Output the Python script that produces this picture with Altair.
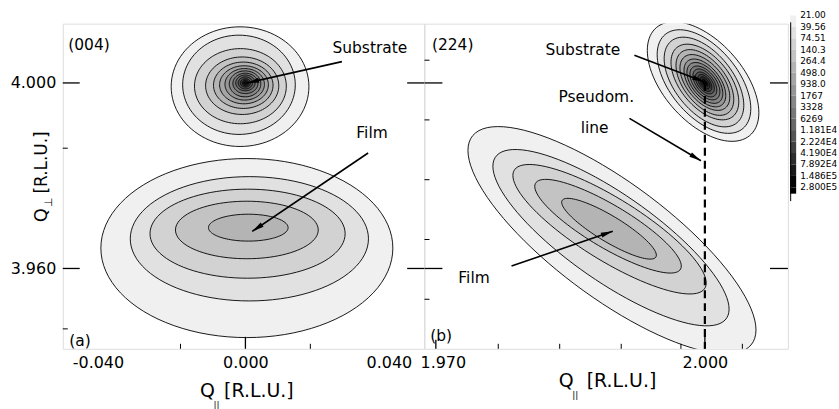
import math
import altair as alt
import numpy as np
import pandas as pd

FONT = "DejaVu Sans"

# ---------------- data ----------------
# contour levels (colour bar)
level_labels = ["21.00", "39.56", "74.51", "140.3", "264.4", "498.0", "938.0", "1767",
                "3328", "6269", "1.181E4", "2.224E4", "4.190E4", "7.892E4", "1.486E5", "2.800E5"]
grays = ["#f0f0f0", "#e1e1e1", "#d2d2d2", "#c3c3c3", "#b4b4b4", "#a5a5a5", "#969696",
         "#878787", "#787878", "#696969", "#555555", "#414141", "#2d2d2d", "#191919", "#050505"]

# (004) substrate peak: contour centres / half-widths (R.L.U.)
sa_cx = [-0.0015, -0.0018, -0.0014, -0.0009, -0.0006, -0.0004, -0.0002, -0.0001, 0.0, 0.0, 0.0, 0.0, 0.0, 0.0]
sa_cy = [3.9992, 3.9996, 3.9993, 3.9994, 3.9995, 3.9996, 3.9997, 3.9998, 3.9999, 4.0000, 4.0000, 4.0000, 4.0000, 4.0000]
sa_rx = [0.0192, 0.0157, 0.0128, 0.0102, 0.0083, 0.0068, 0.0055, 0.0044, 0.0035, 0.0027, 0.0020, 0.0014, 0.0009, 0.0005]
sa_ry = [0.0129, 0.0107, 0.0081, 0.0062, 0.0050, 0.0041, 0.0034, 0.0028, 0.0022, 0.0017, 0.0013, 0.0009, 0.0006, 0.0003]
sa_rho = [0.0] * 14

# (004) film peak
fa_cx = [0.0004, 0.0011, 0.0006, 0.0004, 0.0008]
fa_cy = [3.9644, 3.9664, 3.9675, 3.9683, 3.9688]
fa_rx = [0.0407, 0.0332, 0.0272, 0.0199, 0.0111]
fa_ry = [0.0193, 0.0134, 0.0096, 0.0062, 0.0029]
fa_rho = [0.0] * 5

# (224) substrate peak
sb_cx = [1.9998, 1.9999, 1.9999, 2.0000, 2.0000, 2.0000, 2.0000, 2.0000, 2.0000, 2.0000, 2.0000, 2.0000, 2.0000, 2.0000, 2.0000]
sb_cy = [4.0003, 4.0003, 4.0002, 4.0002, 4.0001, 4.0001, 4.0000, 4.0000, 4.0000, 4.0000, 4.0000, 4.0000, 4.0000, 4.0000, 4.0000]
sb_rx = [0.00622, 0.00522, 0.00444, 0.00378, 0.00322, 0.00278, 0.00233, 0.00200, 0.00167, 0.00133, 0.00106, 0.00078, 0.00056, 0.00033, 0.00017]
sb_ry = [0.01289, 0.01117, 0.00967, 0.00816, 0.00709, 0.00602, 0.00516, 0.00440, 0.00365, 0.00301, 0.00236, 0.00183, 0.00129, 0.00075, 0.00039]
sb_rho = [-0.52] * 15

# (224) film peak
fb_cx = [1.98964, 1.98953, 1.98937, 1.98920, 1.98931]
fb_cy = [3.96610, 3.96664, 3.96846, 3.96911, 3.96857]
fb_rx = [0.01606, 0.01317, 0.01078, 0.00817, 0.00528]
fb_ry = [0.02449, 0.01901, 0.01396, 0.01010, 0.00655]
fb_rho = [-0.79, -0.81, -0.83, -0.85, -0.87]

# axis ticks
xa_labels = [-0.04, 0.0, 0.04]
xb_labels = [1.97, 2.0]
y_labels = [3.96, 4.0]
xa_minor = [-0.0181, 0.0181]
ya_minor = [3.94698, 3.98593]
xb_minor = [1.97696, 1.98381, 1.99067, 1.99733, 2.00418]
yb_minor = [4.0049, 3.99203, 3.97914, 3.96625, 3.95336]

# annotations
ann_a_text = ["(004)", "Substrate", "Film", "(a)"]
ann_a_x = [-0.0494, 0.0347, 0.0353, -0.0491]
ann_a_y = [4.0082, 4.0076, 3.9893, 3.9444]
ann_a_align = ["left", "center", "center", "left"]
arr_a = dict(x1=[0.0269, 0.0342], y1=[4.0046, 3.9849], x2=[0.0005, 0.0019], y2=[4.0000, 3.9680])

ann_b_text = ["(224)", "Substrate", "Pseudom.", "line", "Film", "(b)"]
ann_b_x = [1.96956, 1.98640, 1.98789, 1.98770, 1.97426, 1.96937]
ann_b_y = [4.00814, 4.00707, 3.99704, 3.99023, 3.95800, 3.94548]
ann_b_align = ["left", "center", "center", "center", "center", "left"]
arr_b = dict(x1=[1.99214, 1.99159, 1.97844], y1=[4.00599, 3.99237, 3.96052],
             x2=[1.99992, 1.99956, 1.98973], y2=[4.00026, 3.98322, 3.96803])

pseudo_x = [2.000]
pseudo_y_top = [4.000]

# ---------------- layout ----------------
H = 326.3
WA = 362.6
WB = 364.7
WL = 50
xa_dom = [-0.050917, 0.049806]
xb_dom = [1.968733, 2.009256]
y_dom = [3.942685, 4.012782]

xs_a = alt.Scale(domain=xa_dom, nice=False, zero=False)
xs_b = alt.Scale(domain=xb_dom, nice=False, zero=False)
ys = alt.Scale(domain=y_dom, nice=False, zero=False)

axis_x_a = alt.Axis(values=xa_labels, ticks=False, domain=False, grid=False,
                    labelExpr="datum.value < 0 ? '-' + format(-datum.value, '.3f') : format(datum.value, '.3f')",
                    labelFont=FONT, labelFontSize=16, labelPadding=6, labelFlush=False,
                    labelColor="black", title=None,
                    labelOffset={"condition": {"test": "datum.value < -0.03", "value": -4}, "value": 0})
axis_y_a = alt.Axis(values=y_labels, format=".3f", ticks=False, domain=False, grid=False,
                    labelFont=FONT, labelFontSize=16, labelPadding=7, labelFlush=False,
                    labelColor="black", title=None)
axis_x_b = alt.Axis(values=xb_labels, format=".3f", ticks=False, domain=False, grid=False,
                    labelFont=FONT, labelFontSize=16, labelPadding=6, labelFlush=False,
                    labelColor="black", title=None,
                    labelOffset={"condition": {"test": "datum.value < 1.98", "value": 7}, "value": 0})
axis_y_b = alt.Axis(values=y_labels, ticks=False, domain=False, grid=False, labels=False, title=None)


class Panel:
    def __init__(self, xs, xaxis, yaxis):
        self.xs, self.xaxis, self.yaxis = xs, xaxis, yaxis

    def X(self, f):
        return alt.X(f, scale=self.xs, axis=self.xaxis)

    def Y(self, f):
        return alt.Y(f, scale=ys, axis=self.yaxis)


PA = Panel(xs_a, axis_x_a, axis_y_a)
PB = Panel(xs_b, axis_x_b, axis_y_b)


def ellipse_df(tag, cx, cy, rx, ry, rho, npts=97):
    rows = []
    t = np.linspace(0, 2 * np.pi, npts)
    for k in range(len(cx)):
        r = rho[k]
        xx = cx[k] + rx[k] * np.cos(t)
        yy = cy[k] + ry[k] * (r * np.cos(t) + np.sqrt(1 - r * r) * np.sin(t))
        for i, (x, y) in enumerate(zip(xx, yy)):
            rows.append({"cid": f"{tag}{k}", "level": k, "i": i, "x": float(x), "y": float(y)})
    return pd.DataFrame(rows)


def contour_layers(df, P):
    layers = []
    for k in sorted(int(v) for v in df["level"].unique()):
        sub = df[df["level"] == k]
        layers.append(
            alt.Chart(sub).mark_line(fill=grays[k], stroke="black", strokeWidth=0.9,
                                     clip=True, strokeJoin="round").encode(
                x=P.X("x:Q"), y=P.Y("y:Q"), detail="cid:N", order="i:Q")
        )
    return layers


def arrow_layers(arr, P, kx, ky):
    df = pd.DataFrame(arr)
    df["ang"] = [math.degrees(math.atan2((b - a) * kx, (d - c) * ky)) % 360
                 for a, b, c, d in zip(df.x1, df.x2, df.y1, df.y2)]
    line = alt.Chart(df).mark_rule(color="black", strokeWidth=1.6).encode(
        x=P.X("x1:Q"), y=P.Y("y1:Q"), x2="x2:Q", y2="y2:Q")
    head = alt.Chart(df).mark_point(shape="M0,0L0.42,2L-0.42,2Z", size=144, filled=True,
                                    color="black", opacity=1, strokeWidth=0).encode(
        x=P.X("x2:Q"), y=P.Y("y2:Q"), angle=alt.Angle("ang:Q", scale=None))
    return [line, head]


def text_layers(texts, xv, yv, aligns, P):
    df = pd.DataFrame({"t": texts, "x": xv, "y": yv, "a": aligns})
    out = []
    for al in ["left", "center"]:
        sub = df[df.a == al]
        if len(sub):
            out.append(alt.Chart(sub).mark_text(align=al, baseline="middle", font=FONT,
                                                fontSize=15.5, color="black").encode(
                x=P.X("x:Q"), y=P.Y("y:Q"), text="t:N"))
    return out


def hticks(vals, P, x0, x1, width=1.3):
    return alt.Chart(pd.DataFrame({"v": vals})).mark_rule(color="black", strokeWidth=width).encode(
        y=P.Y("v:Q"), x=alt.value(x0), x2=alt.value(x1))


def vticks(vals, P, length, width=1.3):
    return alt.Chart(pd.DataFrame({"v": vals})).mark_rule(color="black", strokeWidth=width).encode(
        x=P.X("v:Q"), y=alt.value(H - length), y2=alt.value(H))


one = pd.DataFrame({"a": [0]})


def label(text, x, y, size, angle=0):
    kw = dict(text=text, font=FONT, fontSize=size, color="black", align="center", baseline="middle")
    if angle:
        kw["angle"] = angle
    return alt.Chart(one).mark_text(**kw).encode(x=alt.value(x), y=alt.value(y))


kx_a = WA / (xa_dom[1] - xa_dom[0])
kx_b = WB / (xb_dom[1] - xb_dom[0])
ky = H / (y_dom[1] - y_dom[0])

# ---------------- panel (a) ----------------
df_a = pd.concat([ellipse_df("sa", sa_cx, sa_cy, sa_rx, sa_ry, sa_rho),
                  ellipse_df("fa", fa_cx, fa_cy, fa_rx, fa_ry, fa_rho)])

layers_a = contour_layers(df_a, PA)
layers_a += arrow_layers(arr_a, PA, kx_a, ky)
layers_a += text_layers(ann_a_text, ann_a_x, ann_a_y, ann_a_align, PA)
layers_a += [hticks(y_labels, PA, 0, 17), hticks(y_labels, PA, WA - 17, WA), hticks(ya_minor, PA, 0, 5, 1),
             vticks([0.0], PA, 12), vticks(xa_minor, PA, 5, 1)]
layers_a += [label("Q", -21, 192.3, 18, 270), label("⊥", -14, 179.3, 11, 270),
             label("[R.L.U.]", -21, 139.3, 17, 270),
             label("Q", 145.3, 368.3, 19), label("||", 154.3, 382.3, 9),
             label("[R.L.U.]", 196.8, 368.3, 19),
             # white helper fixing the top-left corner of the drawing
             alt.Chart(one).mark_rule(color="white", strokeWidth=0.5).encode(
                 x=alt.value(-62), x2=alt.value(-61), y=alt.value(-22))]
panel_a = alt.layer(*layers_a).properties(width=WA, height=H)

# ---------------- panel (b) ----------------
df_b = pd.concat([ellipse_df("sb", sb_cx, sb_cy, sb_rx, sb_ry, sb_rho),
                  ellipse_df("fb", fb_cx, fb_cy, fb_rx, fb_ry, fb_rho)])
pseudo = alt.Chart(pd.DataFrame({"x": pseudo_x, "y": pseudo_y_top, "y2": [y_dom[0]]})).mark_rule(
    color="black", strokeWidth=2.2, strokeDash=[8, 5]).encode(
    x=PB.X("x:Q"), y=PB.Y("y:Q"), y2="y2:Q")

layers_b = contour_layers(df_b, PB) + [pseudo]
layers_b += arrow_layers(arr_b, PB, kx_b, ky)
layers_b += text_layers(ann_b_text, ann_b_x, ann_b_y, ann_b_align, PB)
layers_b += [hticks(y_labels, PB, 0, 18), hticks(y_labels, PB, WB - 18, WB), hticks(yb_minor, PB, 0, 5, 1),
             vticks([1.97], PB, 9), vticks([2.0], PB, 13), vticks(xb_minor, PB, 5, 1)]
layers_b += [label("Q", 142.2, 358.3, 19), label("||", 151.2, 372.3, 9),
             label("[R.L.U.]", 197.7, 358.3, 19)]
panel_b = alt.layer(*layers_b).properties(width=WB, height=H)

# ---------------- colour bar ----------------
ls = alt.Scale(domain=[0.713, 0.713 + H / 11.5], reverse=True, nice=False, zero=False)
sw_df = pd.DataFrame({"i0": list(range(15)) + [15], "i1": list(range(1, 16)) + [15.55],
                      "c": grays + ["#000000"]})
lab_df = pd.DataFrame({"idx": list(range(16)), "label": level_labels})
swatches = alt.Chart(sw_df).mark_rect().encode(
    y=alt.Y("i0:Q", scale=ls, axis=None), y2="i1:Q", x=alt.value(2), x2=alt.value(8),
    color=alt.Color("c:N", scale=None))
barline = alt.Chart(pd.DataFrame({"a": [0.6], "b": [16.2]})).mark_rule(color="black", strokeWidth=1).encode(
    y=alt.Y("a:Q", scale=ls, axis=None), y2="b:Q", x=alt.value(2.5))
labels = alt.Chart(lab_df).mark_text(align="left", baseline="middle", font=FONT, fontSize=9,
                                     color="black").encode(
    y=alt.Y("idx:Q", scale=ls, axis=None), x=alt.value(12), text="label:N")
legend = alt.layer(swatches, barline, labels).properties(
    width=WL, height=H, view=alt.ViewBackground(stroke="transparent"))

chart = alt.hconcat(panel_a, panel_b, legend, spacing=0, bounds="flush").properties(
    padding={"left": 0, "top": 0, "right": 0, "bottom": 0}
).configure_view(stroke="black", strokeWidth=1.5).configure(background="white", font=FONT)

chart.save("out.html", embed_options={"renderer": "svg", "actions": False})
